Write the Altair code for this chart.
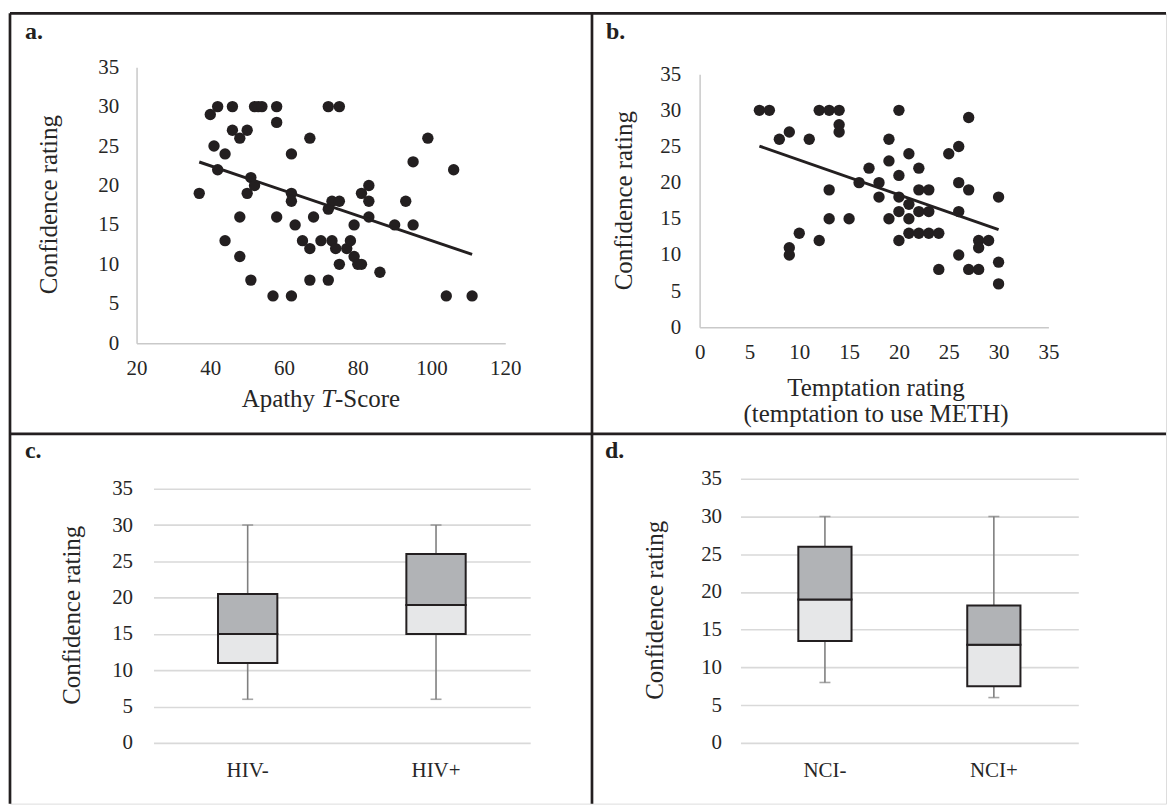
import altair as alt
import pandas as pd

# ---------------- data ----------------
# Panel a: Apathy T-score vs confidence rating
apathy_x = [37, 40, 42, 46, 41, 44, 42, 46, 48, 50,
            48, 44, 48, 50, 51, 52, 51, 52, 53, 54,
            58, 58, 58, 57, 62, 62, 62, 62, 63, 67,
            68, 65, 67, 67, 70, 73, 72, 72, 75, 72,
            73, 75, 74, 77, 75, 79, 78, 79, 80, 81,
            81, 83, 83, 83, 86, 90, 93, 95, 95, 99,
            104, 106, 111]
apathy_y = [19, 29, 30, 30, 25, 24, 22, 27, 26, 27,
            16, 13, 11, 19, 21, 20, 8, 30, 30, 30,
            30, 28, 16, 6, 6, 24, 19, 18, 15, 26,
            16, 13, 12, 8, 13, 13, 8, 30, 30, 17,
            18, 18, 12, 12, 10, 15, 13, 11, 10, 10,
            19, 20, 18, 16, 9, 15, 18, 15, 23, 26,
            6, 22, 6]

# Panel b: temptation rating vs confidence rating
tempt_x = [6, 7, 8, 9, 9, 9, 10, 11, 12, 12,
           13, 14, 14, 14, 13, 13, 15, 16, 17, 18,
           18, 19, 19, 19, 20, 20, 20, 20, 20, 21,
           21, 21, 21, 22, 22, 23, 22, 23, 22, 23,
           24, 24, 25, 26, 26, 26, 26, 27, 27, 27,
           28, 28, 28, 29, 30, 30, 30]
tempt_y = [30, 30, 26, 27, 11, 10, 13, 26, 12, 30,
           30, 30, 28, 27, 19, 15, 15, 20, 22, 20,
           18, 26, 23, 15, 30, 21, 18, 16, 12, 24,
           17, 15, 13, 22, 19, 19, 16, 16, 13, 13,
           13, 8, 24, 25, 20, 16, 10, 29, 19, 8,
           8, 12, 11, 12, 18, 9, 6]

# Panel c: box plot by HIV status
hiv_groups = ["HIV-", "HIV+"]
hiv_min = [6, 6]
hiv_q1 = [11, 15]
hiv_med = [15, 19]
hiv_q3 = [20.5, 26]
hiv_max = [30, 30]

# Panel d: box plot by NCI status
nci_groups = ["NCI-", "NCI+"]
nci_min = [8, 6]
nci_q1 = [13.5, 7.5]
nci_med = [19, 13]
nci_q3 = [26, 18.2]
nci_max = [30, 30]

conf_ticks = [0, 5, 10, 15, 20, 25, 30, 35]
apathy_ticks = [20, 40, 60, 80, 100, 120]
tempt_ticks = [0, 5, 10, 15, 20, 25, 30, 35]

# ---------------- style ----------------
FONT = "Liberation Serif"
DARK = "#231f20"
TXT = "#262626"
AXGRAY = "#c9c9c9"
GRID = "#d9d9d9"
TICK_FS = 21
TITLE_FS = 25

W_L, W_R = 584, 576
H_T, H_B = 422, 371


def text_layer(txt, x, y, size=TITLE_FS, bold=False, italic=False, angle=0,
               align="center", baseline="middle"):
    kw = dict(font=FONT, fontSize=size, color=TXT, align=align, baseline=baseline)
    if bold:
        kw["fontWeight"] = "bold"
        kw["color"] = DARK
    if italic:
        kw["fontStyle"] = "italic"
    if angle:
        kw["angle"] = angle
    return alt.Chart(pd.DataFrame({"t": [txt]})).mark_text(**kw).encode(
        text="t:N", x=alt.value(x), y=alt.value(y))


def borders(W, H):
    d = pd.DataFrame({"k": [0]})
    left = alt.Chart(d).mark_rule(color=DARK, strokeWidth=2.7).encode(
        x=alt.value(0), y=alt.value(0), y2=alt.value(H))
    top = alt.Chart(d).mark_rule(color=DARK, strokeWidth=2.7).encode(
        x=alt.value(0), x2=alt.value(W), y=alt.value(0))
    return [left, top]


def scatter_panel(xs, ys, xdom, xr, yr, xticks, W, H, xlab_pad, ylab_pad):
    df = pd.DataFrame({"x": xs, "y": ys})
    xsc = alt.Scale(domain=xdom, range=xr, nice=False, zero=False)
    ysc = alt.Scale(domain=[0, 35], range=yr, nice=False, zero=False)
    xax = alt.Axis(values=xticks, offset=yr[0] - H, domain=True, domainColor=AXGRAY,
                   domainWidth=1.5, ticks=False, tickSize=0, grid=False, title=None,
                   labelFont=FONT, labelFontSize=TICK_FS, labelColor=TXT,
                   labelPadding=xlab_pad, labelBaseline="middle", labelFlush=False,
                   labelOverlap=False, labelBound=False)
    yax = alt.Axis(values=conf_ticks, offset=-xr[0], domain=True, domainColor=AXGRAY,
                   domainWidth=1.5, ticks=False, tickSize=0, grid=False, title=None,
                   labelFont=FONT, labelFontSize=TICK_FS, labelColor=TXT,
                   labelPadding=ylab_pad, labelFlush=False, labelOverlap=False,
                   labelBound=False)
    base = alt.Chart(df).encode(x=alt.X("x:Q", scale=xsc, axis=xax),
                                y=alt.Y("y:Q", scale=ysc, axis=yax))
    pts = base.mark_circle(size=130, color=DARK, opacity=1)
    trend = base.transform_regression("x", "y").mark_line(color=DARK, strokeWidth=3)
    return [pts, trend]


def box_panel(groups, mn, q1, med, q3, mx, xr, yr, W, H, ylab_pad, xlab_pad):
    df = pd.DataFrame({"g": groups, "mn": mn, "q1": q1, "med": med, "q3": q3, "mx": mx})
    xsc = alt.Scale(domain=groups, range=xr, paddingInner=0, paddingOuter=0)
    ysc = alt.Scale(domain=[0, 35], range=yr, nice=False)
    xax = alt.Axis(offset=yr[0] - H, domain=False, ticks=False, tickSize=0, grid=False,
                   title=None, labelAngle=0, labelFont=FONT, labelFontSize=TICK_FS,
                   labelColor=TXT, labelPadding=xlab_pad, labelBaseline="middle")
    yax = alt.Axis(values=conf_ticks, offset=-xr[0], domain=False, ticks=False, tickSize=0,
                   grid=True, gridColor=GRID, gridWidth=1.6, title=None,
                   labelFont=FONT, labelFontSize=TICK_FS, labelColor=TXT,
                   labelPadding=ylab_pad, labelFlush=False, labelOverlap=False)
    X = alt.X("g:N", scale=xsc, axis=xax, sort=groups)
    base = alt.Chart(df)
    whisk = base.mark_rule(color="#7f7f7f", strokeWidth=1.6).encode(
        x=X, y=alt.Y("mn:Q", scale=ysc, axis=yax), y2="mx:Q")
    cap_lo = base.mark_tick(color="#7f7f7f", thickness=1.6, size=11).encode(
        x=X, y=alt.Y("mn:Q", scale=ysc))
    cap_hi = base.mark_tick(color="#7f7f7f", thickness=1.6, size=11).encode(
        x=X, y=alt.Y("mx:Q", scale=ysc))
    low = base.mark_bar(color="#e6e7e8", stroke=DARK, strokeWidth=2,
                        width=alt.RelativeBandSize(0.315)).encode(
        x=X, y=alt.Y("q1:Q", scale=ysc), y2="med:Q")
    up = base.mark_bar(color="#b1b3b6", stroke=DARK, strokeWidth=2,
                       width=alt.RelativeBandSize(0.315)).encode(
        x=X, y=alt.Y("med:Q", scale=ysc), y2="q3:Q")
    return [whisk, cap_lo, cap_hi, low, up]


# ---------------- panel a ----------------
a_layers = borders(W_L, H_T) + scatter_panel(
    apathy_x, apathy_y, [20, 120], [127, 497], [331, 54], apathy_ticks, W_L, H_T, 25, 18)
a_layers += [
    text_layer("a.", 15, 26, size=24, bold=True, align="left", baseline="alphabetic"),
    text_layer("Confidence rating", 39, 192, angle=270),
    text_layer("Apathy ", 232.5, 387, align="left"),
    text_layer("T", 312.3, 387, italic=True, align="left"),
    text_layer("-Score", 326.2, 387, align="left"),
]
panel_a = alt.layer(*a_layers).properties(width=W_L, height=H_T)

# ---------------- panel b ----------------
b_layers = borders(W_R, H_T) + scatter_panel(
    tempt_x, tempt_y, [0, 35], [108, 458], [315, 61], tempt_ticks, W_R, H_T, 25, 19)
b_layers += [
    text_layer("b.", 14, 26, size=24, bold=True, align="left", baseline="alphabetic"),
    text_layer("Confidence rating", 32, 188, angle=270),
    text_layer("Temptation rating", 285, 376),
    text_layer("(temptation to use METH)", 285, 402),
]
panel_b = alt.layer(*b_layers).properties(width=W_R, height=H_T)

# ---------------- panel c ----------------
c_layers = borders(W_L, H_B) + box_panel(
    hiv_groups, hiv_min, hiv_q1, hiv_med, hiv_q3, hiv_max, [144, 522], [310, 55],
    W_L, H_B, 21, 28)
c_layers += [
    text_layer("c.", 15, 24, size=24, bold=True, align="left", baseline="alphabetic"),
    text_layer("Confidence rating", 62, 182, angle=270),
]
panel_c = alt.layer(*c_layers).properties(width=W_L, height=H_B)

# ---------------- panel d ----------------
d_layers = borders(W_R, H_B) + box_panel(
    nci_groups, nci_min, nci_q1, nci_med, nci_q3, nci_max, [149, 488], [310, 45],
    W_R, H_B, 19, 28)
d_layers += [
    text_layer("d.", 13, 24, size=24, bold=True, align="left", baseline="alphabetic"),
    text_layer("Confidence rating", 63, 177, angle=270),
]
panel_d = alt.layer(*d_layers).properties(width=W_R, height=H_B)

chart = alt.concat(panel_a, panel_b, panel_c, panel_d, columns=2, spacing=0,
                   bounds="flush").properties(
    padding={"left": 0, "top": 2, "right": 0, "bottom": 0}
).configure_view(stroke=None).configure(background="white")

chart.save("out.html", embed_options={"renderer": "svg", "actions": False})
